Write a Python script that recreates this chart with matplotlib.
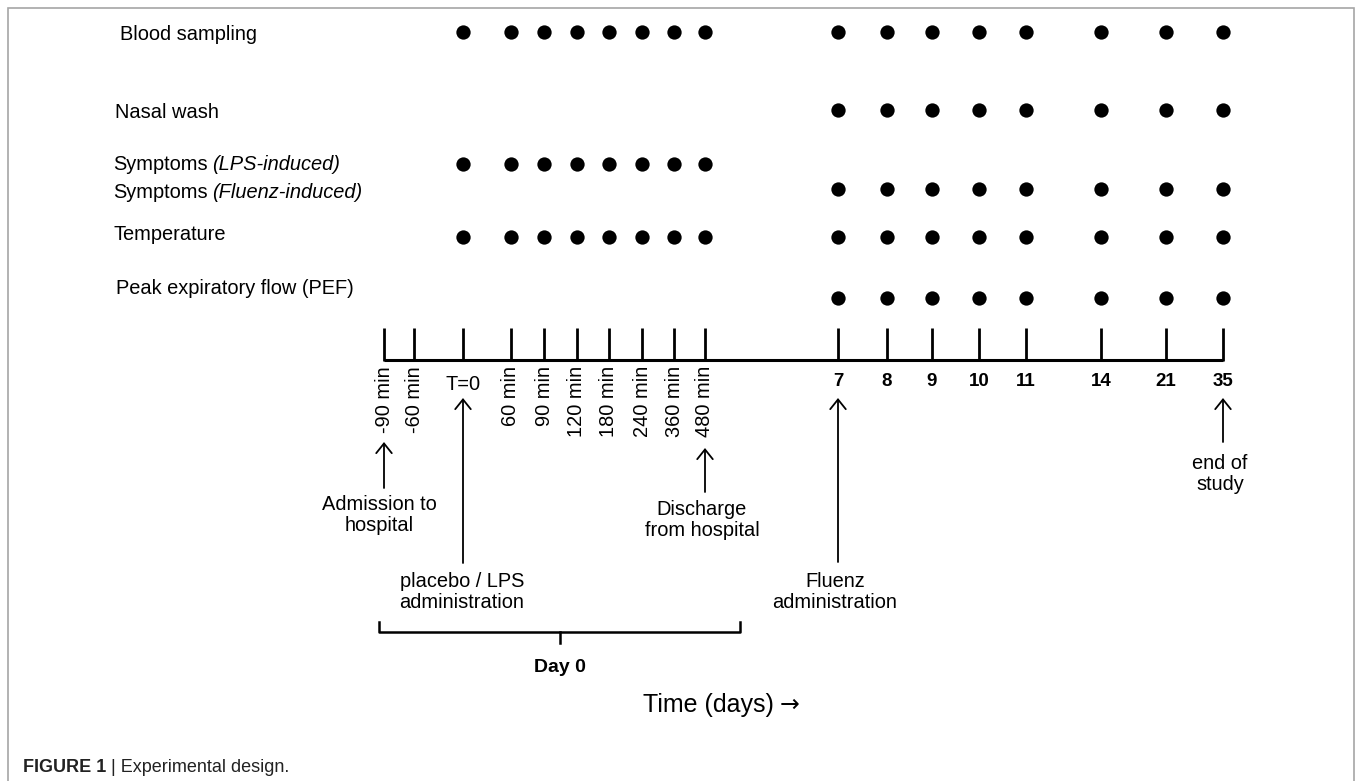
import matplotlib
matplotlib.use("Agg")
import matplotlib.pyplot as plt

plt.rcParams['font.family'] = ['Liberation Sans', 'DejaVu Sans']

# --- data -----------------------------------------------------------------
minute_labels = ["-90 min", "-60 min", "T=0", "60 min", "90 min", "120 min",
                 "180 min", "240 min", "360 min", "480 min"]
day_labels = ["7", "8", "9", "10", "11", "14", "21", "35"]
timepoints = minute_labels + day_labels

day0_samples = ["T=0", "60 min", "90 min", "120 min", "180 min",
                "240 min", "360 min", "480 min"]

row_names = ["Blood sampling", "Nasal wash", "Symptoms", "Symptoms",
             "Temperature", "Peak expiratory flow (PEF)"]
row_notes = ["", "", "(LPS-induced)", "(Fluenz-induced)", "", ""]
blood_sampling = day0_samples + day_labels
nasal_wash = day_labels
symptoms_lps = day0_samples
symptoms_fluenz = day_labels
temperature = day0_samples + day_labels
peak_flow = day_labels
row_samples = [blood_sampling, nasal_wash, symptoms_lps, symptoms_fluenz,
               temperature, peak_flow]

event_points = ["-90 min", "T=0", "480 min", "7", "35"]
event_texts = ["Admission to\nhospital", "placebo / LPS\nadministration",
               "Discharge\nfrom hospital", "Fluenz\nadministration", "end of\nstudy"]

# --- layout (pixels of the 1356x781 canvas) -------------------------------
tick_x = [384, 414, 463, 511, 544, 577, 609, 642, 674, 705,
          838, 887, 932, 979, 1026, 1101, 1166, 1223]
xpos = dict(zip(timepoints, tick_x))
label_x = [120, 115, 113, 113, 113, 116]
label_y = [35, 113, 165, 193, 235, 288]
dot_y = [32, 110, 164, 189, 237, 298]
axis_y, tick_top = 360, 328

event_tip = [442, 398, 448, 398, 398]
event_base = [488, 563, 492, 562, 442]
event_text_y = [515, 592, 520, 592, 474]
event_dx = [-5, -1, -3, -3, -3]

fig = plt.figure(figsize=(13.56, 7.81), dpi=100)
ax = fig.add_axes([0, 0, 1, 1])
ax.set_xlim(0, 1356)
ax.set_ylim(781, 0)
ax.axis('off')

# frame around the panel
frame = '#a6a6a6'
ax.plot([8, 8, 1354, 1354], [781, 8, 8, 781], color=frame, lw=1.2,
        solid_joinstyle='miter')

fs = 14.4

# row labels and sampling dots
for name, note, lx, ly, dy, samples in zip(row_names, row_notes, label_x,
                                            label_y, dot_y, row_samples):
    t = ax.text(lx, ly, name, fontsize=fs, va='center', ha='left')
    if note:
        ax.annotate(note, xy=(1, 0), xycoords=t, xytext=(3.5, 0),
                    textcoords='offset points', fontsize=fs, style='italic',
                    va='bottom', ha='left')
    ax.plot([xpos[s] for s in samples], [dy] * len(samples), 'o',
            color='black', markersize=10.3, markeredgewidth=0)

# time axis with ticks
ax.plot([tick_x[0], tick_x[-1]], [axis_y, axis_y], color='black', lw=2.2,
        solid_capstyle='butt')
for lab in timepoints:
    x = xpos[lab]
    ax.plot([x, x], [tick_top, axis_y + 1], color='black', lw=2.0,
            solid_capstyle='butt')
    if lab in day_labels:
        ax.text(x, 381, lab, fontsize=13.5, fontweight='bold',
                ha='center', va='center')
    elif lab == "T=0":
        ax.text(x, 385, lab, fontsize=fs, ha='center', va='center')
    else:
        ax.text(x, 366, lab, fontsize=fs, rotation=90,
                ha='center', va='top')

# event arrows
for pt, txt, tip, base, ty, dx in zip(event_points, event_texts, event_tip,
                                      event_base, event_text_y, event_dx):
    x = xpos[pt]
    ax.annotate('', xy=(x, tip), xytext=(x, base),
                arrowprops=dict(arrowstyle='->, head_length=0.35, head_width=0.28',
                                lw=1.3, color='black', mutation_scale=20,
                                shrinkA=0, shrinkB=0))
    ax.text(x + dx, ty, txt, fontsize=fs, ha='center', va='center',
            linespacing=1.15)

# Day 0 brace
ax.plot([379, 379, 740, 740], [622, 632, 632, 622], color='black', lw=1.8,
        solid_joinstyle='round')
ax.plot([560, 560], [632, 643], color='black', lw=1.8)
ax.text(560, 668, "Day 0", fontsize=14, fontweight='bold',
        ha='center', va='center')

# axis title, the arrow glyph taken from DejaVu Sans
tt = ax.text(643, 705, "Time (days)", fontsize=18, ha='left', va='center')
ax.annotate("\u2192", xy=(1, 0.5), xycoords=tt, xytext=(4, 0),
            textcoords='offset points', fontsize=17, family=['DejaVu Sans'],
            ha='left', va='center')

# caption
cap = ax.text(23, 767, "FIGURE 1", fontsize=13, fontweight='bold',
              color='#222222', ha='left', va='center')
ax.annotate(" | Experimental design.", xy=(1, 0), xycoords=cap,
            fontsize=13, color='#222222', ha='left', va='bottom')

fig.savefig("out.png", dpi=100)
